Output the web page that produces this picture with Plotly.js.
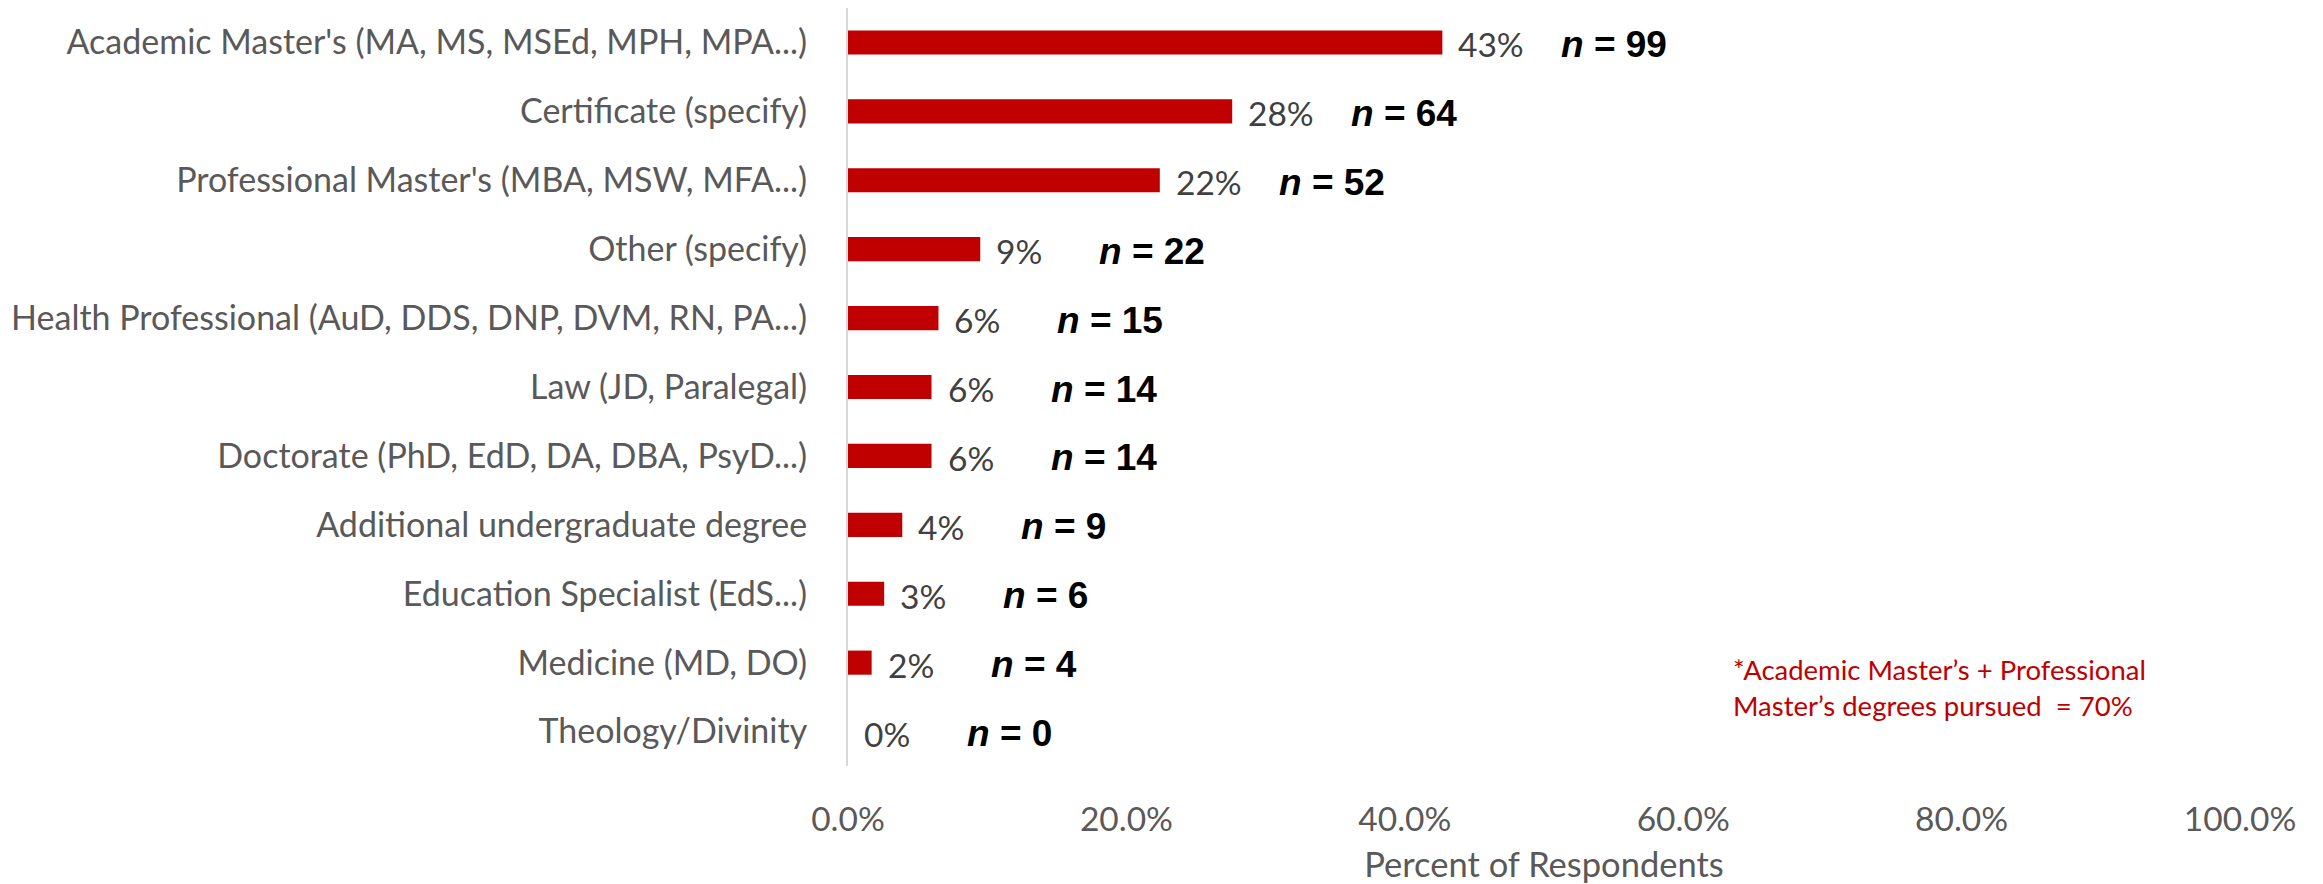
<!DOCTYPE html>
<html>
<head>
<meta charset="utf-8">
<script src="https://cdn.plot.ly/plotly-3.0.1.min.js"></script>
<style>html,body{margin:0;padding:0;background:#fff;}#chart{width:2323px;height:884px;}</style>
</head>
<body>
<div id="chart"></div>
<script>
var categories = [
  "Academic Master's (MA, MS, MSEd, MPH, MPA...)",
  "Certificate (specify)",
  "Professional Master's (MBA, MSW, MFA...)",
  "Other (specify)",
  "Health Professional (AuD, DDS, DNP, DVM, RN, PA...)",
  "Law (JD, Paralegal)",
  "Doctorate (PhD, EdD, DA, DBA, PsyD...)",
  "Additional undergraduate degree",
  "Education Specialist (EdS...)",
  "Medicine (MD, DO)",
  "Theology/Divinity"
];
var percentValues = [42.7, 27.6, 22.4, 9.5, 6.5, 6.0, 6.0, 3.9, 2.6, 1.7, 0];
var percentLabels = ["43%", "28%", "22%", "9%", "6%", "6%", "6%", "4%", "3%", "2%", "0%"];
var nCounts = [99, 64, 52, 22, 15, 14, 14, 9, 6, 4, 0];
var xTickValues = [0, 20, 40, 60, 80, 100];
var xTickLabels = ["0.0%", "20.0%", "40.0%", "60.0%", "80.0%", "100.0%"];
var noteText = "*Academic Master\u2019s + Professional<br>Master\u2019s degrees pursued  = 70%";

var FONT = "Lato, 'Open Sans', sans-serif";
var annotations = [];
for (var i = 0; i < categories.length; i++) {
  annotations.push({
    x: percentValues[i], y: categories[i], xref: 'x', yref: 'y',
    text: percentLabels[i], showarrow: false, xanchor: 'left', yanchor: 'middle',
    xshift: 14, yshift: -2, font: {family: FONT, size: 33.5, color: '#404040'}
  });
  annotations.push({
    x: percentValues[i], y: categories[i], xref: 'x', yref: 'y',
    text: '<b><i>n</i> = ' + nCounts[i] + '</b>', showarrow: false,
    xanchor: 'left', yanchor: 'middle', xshift: 117, yshift: -2,
    font: {family: "'Liberation Sans', Arial, sans-serif", size: 37, color: '#000000'}
  });
}
annotations.push({
  x: 0.6345, y: 0.103, xref: 'paper', yref: 'paper', text: noteText,
  showarrow: false, xanchor: 'left', yanchor: 'middle', align: 'left',
  font: {family: FONT, size: 27.5, color: '#C00000'}
});

var trace = {
  type: 'bar', orientation: 'h',
  x: percentValues, y: categories,
  marker: {color: '#C00000'},
  hoverinfo: 'none'
};

var layout = {
  width: 2323, height: 884,
  margin: {l: 848, r: 83, t: 8, b: 118, pad: 0},
  paper_bgcolor: '#ffffff', plot_bgcolor: '#ffffff',
  bargap: 0.65,
  showlegend: false,
  xaxis: {
    range: [0, 100], tickvals: xTickValues, ticktext: xTickLabels,
    showgrid: false, zeroline: false, showline: false, ticks: '',
    ticklabelstandoff: 30,
    tickfont: {family: FONT, size: 33.5, color: '#595959'},
    title: {text: 'Percent of Respondents', font: {family: FONT, size: 34.5, color: '#595959'}, standoff: 20}
  },
  yaxis: {
    type: 'category', autorange: 'reversed',
    showgrid: false, zeroline: false, showline: true, linecolor: '#d9d9d9', linewidth: 2,
    ticks: '', ticklabelstandoff: 32,
    tickfont: {family: FONT, size: 34, color: '#595959'}
  },
  annotations: annotations
};

Plotly.newPlot('chart', [trace], layout, {displayModeBar: false, staticPlot: true});
</script>
</body>
</html>
